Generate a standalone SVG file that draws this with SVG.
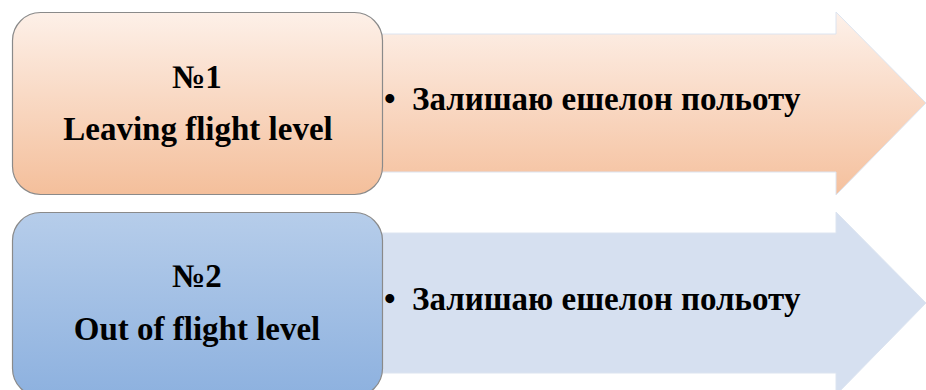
<svg xmlns="http://www.w3.org/2000/svg" width="926" height="390" viewBox="0 0 926 390">
<defs>
<linearGradient id="gPeachBox" x1="0" y1="0" x2="0" y2="1">
<stop offset="0" stop-color="#fdf0e8"/>
<stop offset="1" stop-color="#f4bf9b"/>
</linearGradient>
<linearGradient id="gPeachArrow" x1="0" y1="0" x2="0" y2="1">
<stop offset="0" stop-color="#fdf1ea"/>
<stop offset="1" stop-color="#f5c09d"/>
</linearGradient>
<linearGradient id="gBlueBox" x1="0" y1="0" x2="0" y2="1">
<stop offset="0" stop-color="#b6cdea"/>
<stop offset="1" stop-color="#8db1df"/>
</linearGradient>
<style>
.box{stroke:#8a8a8a;stroke-width:1.2}
.arrow{stroke:#dce4f0;stroke-width:1}
text{fill:#000}
.c{text-anchor:middle}
</style>
</defs>
<g id="connectors">
<path id="arrow1" class="arrow" fill="url(#gPeachArrow)" d="M370,34 H836 V12 L926,103 L836,195 V172 H370 Z"/>
<path id="arrow2" class="arrow" fill="#d6e0f0" d="M370,233 H836 V212 L926,303 L836,395 V373 H370 Z"/>
</g>
<g font-family="Liberation Serif, Times New Roman, serif" font-weight="bold" font-size="33">
<g id="node1">
<rect class="box" x="12.5" y="12.5" width="370" height="182" rx="28" fill="url(#gPeachBox)"/>
<text class="c" x="197" y="88">№1</text>
<text class="c" x="198" y="140">Leaving flight level</text>
</g>
<g id="node2">
<rect class="box" x="12.5" y="212.5" width="370" height="184" rx="28" fill="url(#gBlueBox)"/>
<text class="c" x="197" y="287">№2</text>
<text class="c" x="197" y="340">Out of flight level</text>
</g>
<g id="label1">
<text x="384" y="110">•</text>
<text x="412" y="110">Залишаю ешелон польоту</text>
</g>
<g id="label2">
<text x="384" y="310">•</text>
<text x="412" y="310">Залишаю ешелон польоту</text>
</g>
</g>
</svg>
